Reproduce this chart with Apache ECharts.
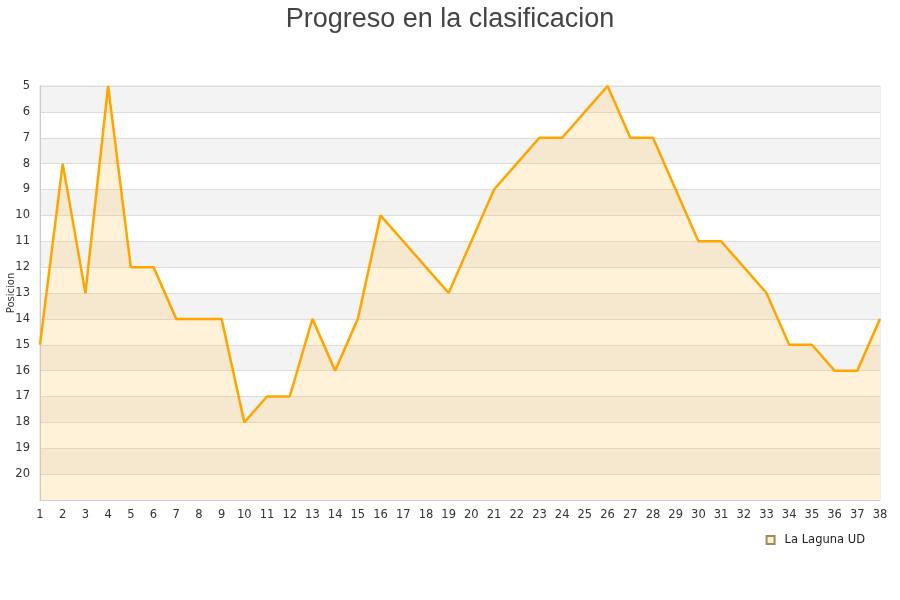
<!DOCTYPE html>
<html>
<head>
<meta charset="utf-8">
<script src="https://cdn.jsdelivr.net/npm/echarts@6/dist/echarts.min.js"></script>
<style>
    html, body { margin: 0; padding: 0; background: #fff; }
    #chart { width: 900px; height: 600px; }
</style>
</head>
<body>
<div id="chart"></div>
<script>
const jornadas = [1, 2, 3, 4, 5, 6, 7, 8, 9, 10, 11, 12, 13, 14, 15, 16, 17, 18, 19,
    20, 21, 22, 23, 24, 25, 26, 27, 28, 29, 30, 31, 32, 33, 34, 35, 36, 37, 38];
const posiciones = [15, 8, 13, 5, 12, 12, 14, 14, 14, 18, 17, 17, 14, 16, 14, 10, 11, 12, 13,
    11, 9, 8, 7, 7, 6, 5, 7, 7, 9, 11, 11, 12, 13, 15, 15, 16, 16, 14];
const equipo = "La Laguna UD";

const chart = echarts.init(document.getElementById("chart"));

chart.setOption({
    animation: false,
    textStyle: { fontFamily: "DejaVu Sans" },
    title: {
        text: "Progreso en la clasificacion",
        left: "center",
        top: 1,
        textStyle: { fontFamily: "Liberation Sans", fontSize: 27, fontWeight: "normal", color: "#444" }
    },
    legend: {
        data: [equipo],
        right: 30,
        top: 529,
        icon: "rect",
        itemWidth: 8,
        itemHeight: 8,
        textStyle: { fontSize: 11.5, color: "#222", padding: [0, 0, 0, 5] }
    },
    grid: {
        left: 40, right: 20, top: 86, bottom: 100,
        outerBoundsMode: "none",
        containLabel: false,
        show: true, borderColor: "#ddd", borderWidth: 1
    },
    xAxis: {
        type: "category",
        data: jornadas,
        boundaryGap: false,
        axisLine: { lineStyle: { color: "#ccc" } },
        axisTick: { show: false },
        axisLabel: { color: "#333", fontSize: 11.5, margin: 9, interval: 0 },
        splitLine: { show: false }
    },
    yAxis: {
        type: "value",
        inverse: true,
        min: 5,
        max: 21,
        interval: 1,
        name: "Posicion",
        nameLocation: "middle",
        nameGap: 24,
        nameMoveOverlap: false,
        nameTextStyle: { fontSize: 10, color: "#333" },
        axisLine: { show: true, lineStyle: { color: "#ccc" } },
        axisTick: { show: false },
        axisLabel: {
            color: "#333",
            fontSize: 11.5,
            margin: 10,
            formatter: v => (v === 21 ? "" : v)
        },
        splitLine: { lineStyle: { color: "#ddd" } },
        splitArea: { show: true, areaStyle: { color: ["#f3f3f3", "#ffffff"] } }
    },
    series: [
        {
            name: equipo,
            type: "line",
            data: posiciones,
            showSymbol: false,
            symbol: "none",
            itemStyle: { color: "#fff0d0", borderColor: "#a08a60", borderWidth: 1 },
            lineStyle: { color: "#ffa500", width: 2.5 },
            areaStyle: { origin: "end", color: "rgba(255,193,77,0.3)" }
        }
    ]
});
</script>
</body>
</html>
